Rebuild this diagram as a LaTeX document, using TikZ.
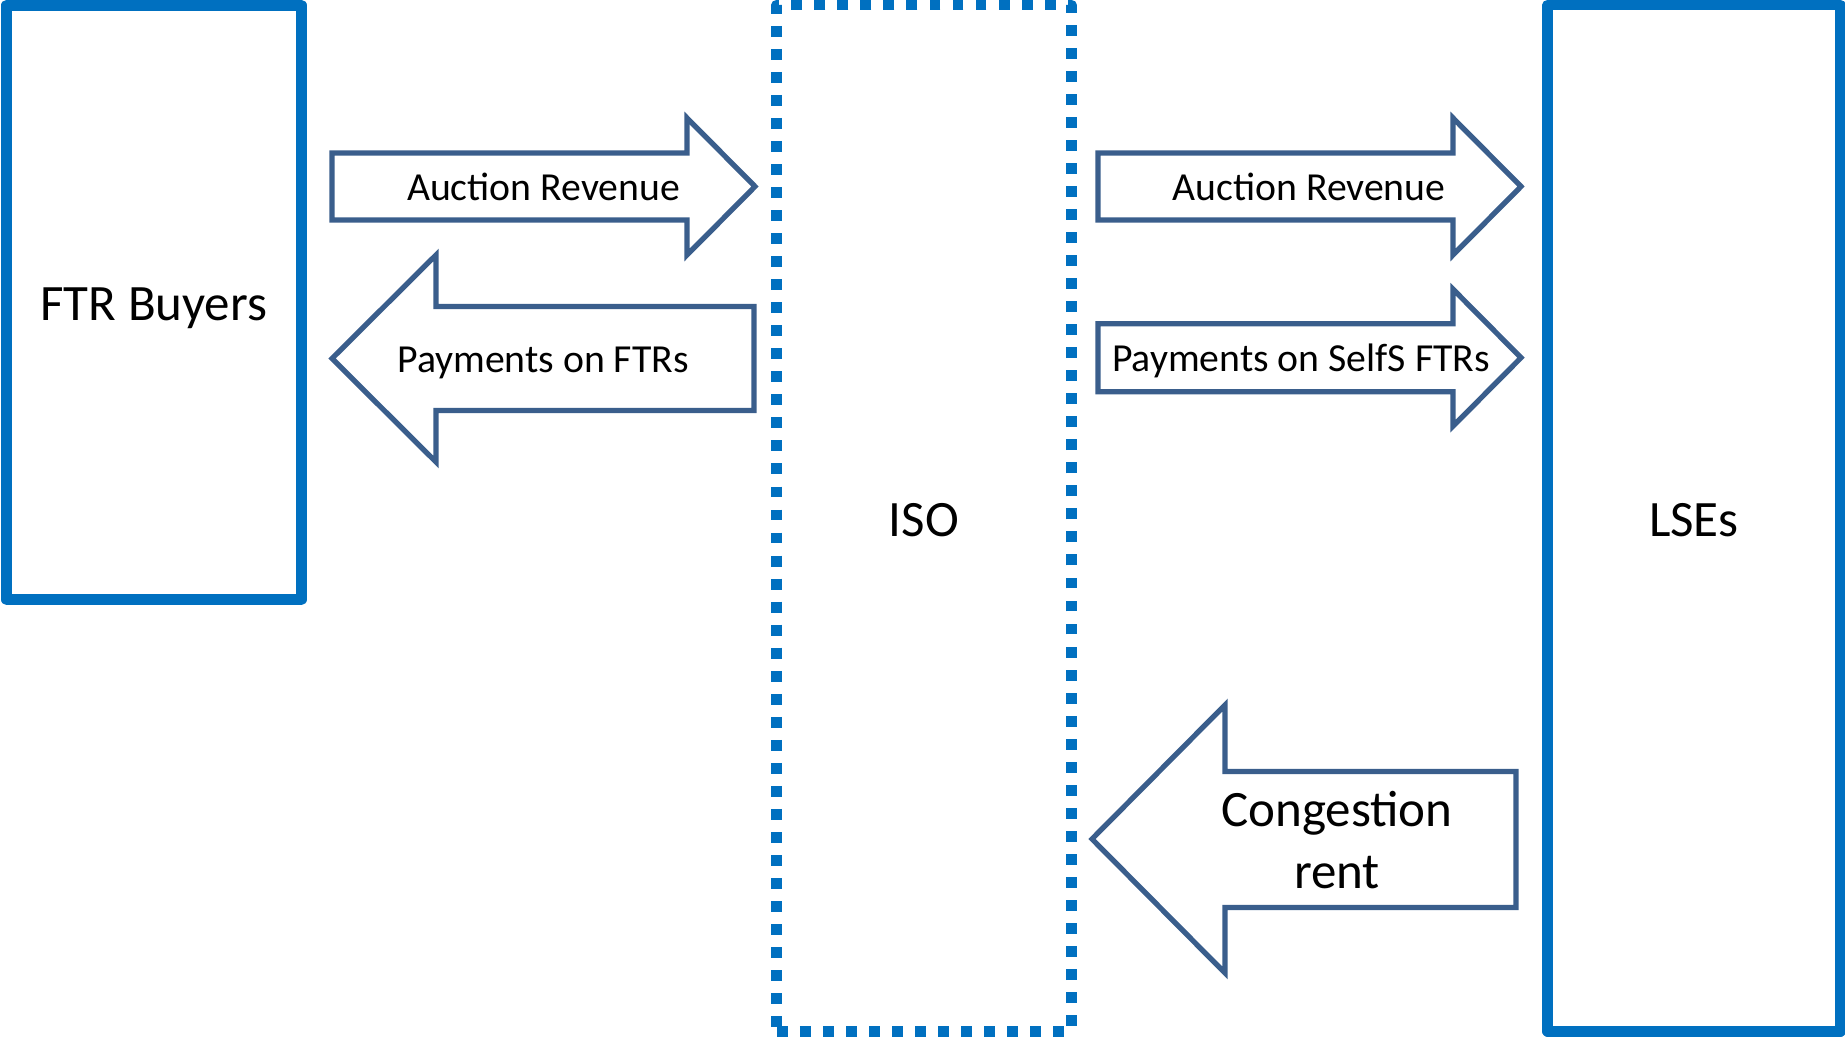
\documentclass[tikz,border=0pt]{standalone}
\usepackage{fontspec}
\setmainfont{Carlito}
\usepackage{tikz}
\definecolor{boxblue}{HTML}{0070C0}
\definecolor{flowblue}{HTML}{3A5E8C}

\begin{document}
\begin{tikzpicture}[x=0.01cm,y=-0.01cm,
    party/.style={draw=boxblue,line width=3.1pt,line join=round,inner sep=0pt,
      font=\fontsize{14.5pt}{17.7pt}\selectfont,text height=10.5pt,text depth=0pt},
    isobox/.style={party,dash pattern=on 3.1pt off 3.45pt},
    flow/.style={draw=flowblue,line width=1.5pt,fill=white},
    flowtext/.style={font=\fontsize{11.3pt}{13.8pt}\selectfont,text height=7.9pt,text depth=0pt}]
  \useasboundingbox (0,0) rectangle (1845,1037);
  %
  \node[party,minimum width=2.943cm,minimum height=5.942cm](ftr) at (153.9,302.4){FTR Buyers};
  \node[isobox,minimum width=2.94cm,minimum height=10.257cm](iso) at (924,518.2){ISO};
  \node[party,minimum width=2.92cm,minimum height=10.257cm](lse) at (1694,518.2){LSEs};
  %
  \draw[flow] (332,153) -- (687,153) -- (687,118) -- (755,186.5) -- (687,255) -- (687,220) -- (332,220) -- cycle;
  \node[flowtext](rev1) at (543.5,186.5){Auction Revenue};
  \draw[flow] (332,358.5) -- (436,255) -- (436,306.5) -- (754,306.5) -- (754,410.5) -- (436,410.5) -- (436,462) -- cycle;
  \node[flowtext](pay1) at (543,358.5){Payments on FTRs};
  %
  \draw[flow] (1098,153) -- (1453,153) -- (1453,118) -- (1521,186.5) -- (1453,255) -- (1453,220) -- (1098,220) -- cycle;
  \node[flowtext](rev2) at (1309,186.5){Auction Revenue};
  \draw[flow] (1098,323.7) -- (1453,323.7) -- (1453,289.2) -- (1521,357.7) -- (1453,426.2) -- (1453,391.7) -- (1098,391.7) -- cycle;
  \node[flowtext](pay2) at (1301,357.7){Payments on SelfS FTRs};
  %
  \draw[flow] (1092,839) -- (1225,705) -- (1225,771.5) -- (1516,771.5) -- (1516,907.5) -- (1225,907.5) -- (1225,973) -- cycle;
  \node[align=center,font=\fontsize{14.5pt}{17.7pt}\selectfont](rent) at (1337,840){Congestion\\rent};
\end{tikzpicture}
\end{document}
